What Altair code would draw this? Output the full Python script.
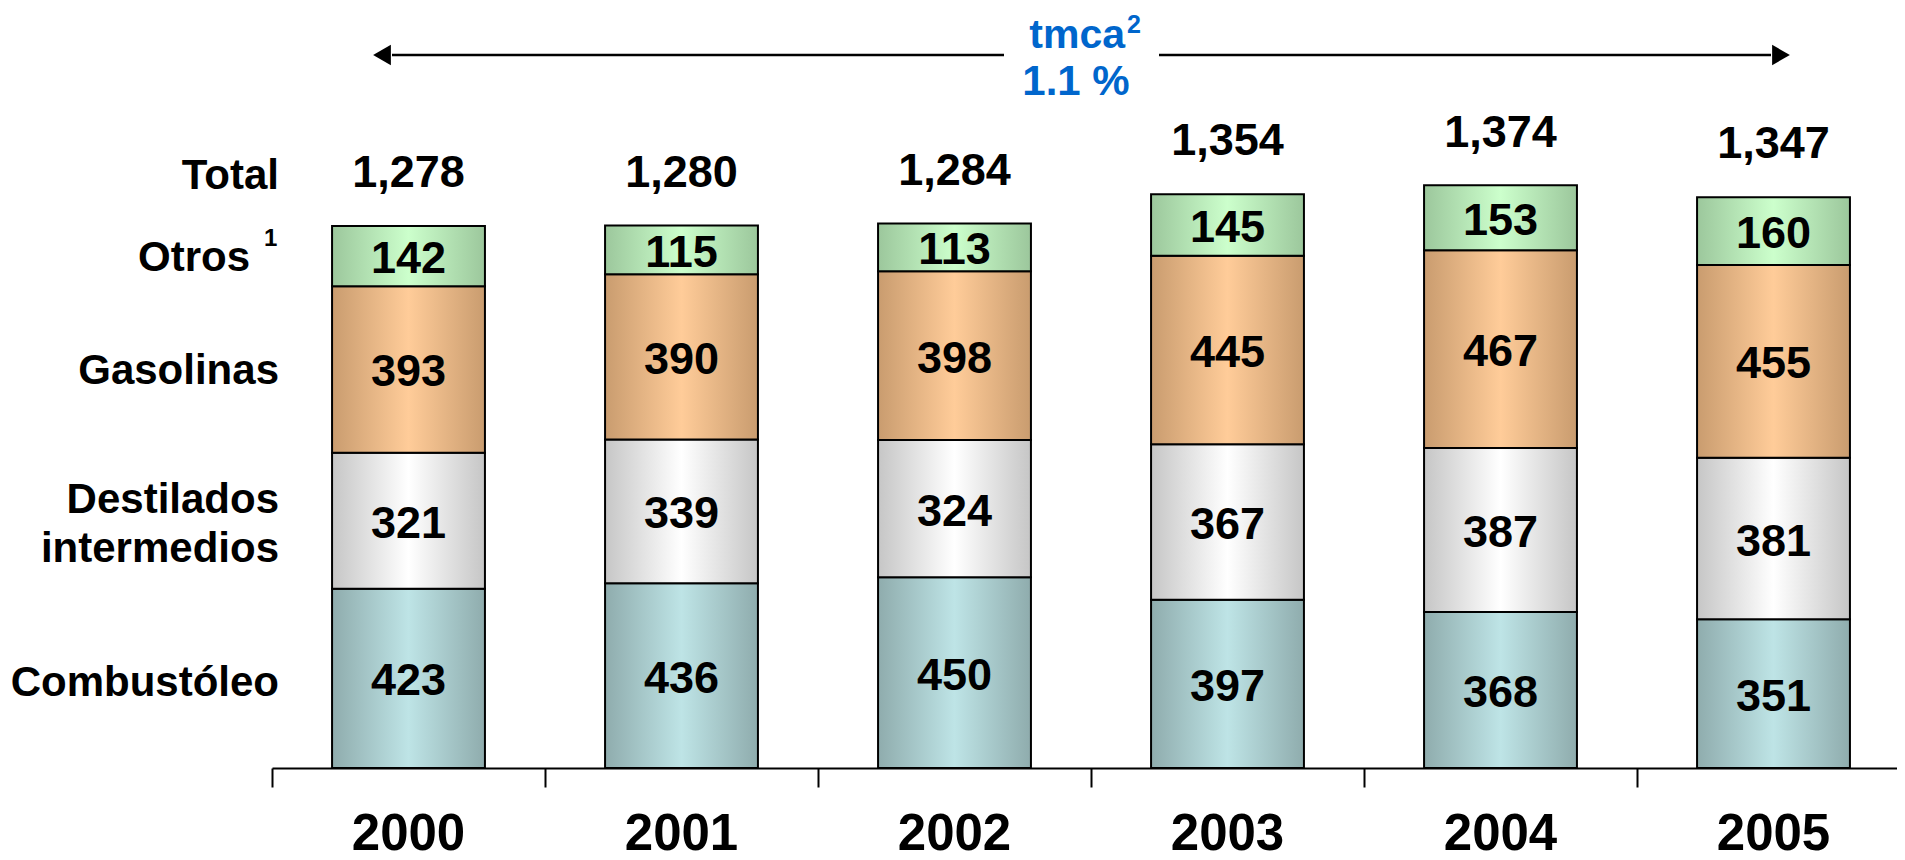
import altair as alt
import pandas as pd

# ---- data ----
years = ["2000", "2001", "2002", "2003", "2004", "2005"]
series = ["Combustóleo", "Destilados\nintermedios", "Gasolinas", "Otros"]
series_notes = ["", "", "", "1"]
combustoleo = [423, 436, 450, 397, 368, 351]
destilados = [321, 339, 324, 367, 387, 381]
gasolinas = [393, 390, 398, 445, 467, 455]
otros = [142, 115, 113, 145, 153, 160]
totals = [1278, 1280, 1284, 1354, 1374, 1347]
tmca_title = "tmca"
tmca_note = "2"
tmca_value = "1.1 %"

edge_colors = ["#8FACAD", "#C6C6C6", "#C99C6F", "#9CC79C"]
center_colors = ["#BEE4E6", "#FFFFFF", "#FFCC99", "#CCFFCC"]

values = [combustoleo, destilados, gasolinas, otros]
rows = []
for yi, yr in enumerate(years):
    base = 0
    for si, s in enumerate(series):
        v = values[si][yi]
        rows.append(dict(year=yr, series=s, note=series_notes[si], value=v, start=base,
                         end=base + v, mid=base + v / 2, order=si))
        base += v
seg = pd.DataFrame(rows)
tot = pd.DataFrame({"year": years, "total": totals})

FONT = "Liberation Sans"
BLUE = "#0066CC"

xscale = alt.Scale(domain=years, range=[0, 1638], paddingInner=0.44, paddingOuter=0.22)
yscale = alt.Scale(domain=[0, 1600])
xaxis = alt.Axis(title=None, domainColor="black", domainWidth=2, tickColor="black",
                 tickWidth=2, tickSize=19, bandPosition=-0.392, labelFont=FONT,
                 labelFontSize=51, labelFontWeight="bold", labelColor="black",
                 labelBaseline="alphabetic", labelPadding=62, labelAngle=0)
xenc = alt.X("year:N", scale=xscale, axis=xaxis, sort=years)

layers = []
for si, s in enumerate(series):
    grad = alt.Gradient(
        gradient="linear", x1=0, x2=1, y1=0, y2=0,
        stops=[alt.GradientStop(color=edge_colors[si], offset=0),
               alt.GradientStop(color=center_colors[si], offset=0.5),
               alt.GradientStop(color=edge_colors[si], offset=1)])
    layers.append(
        alt.Chart(seg[seg.series == s]).mark_bar(fill=grad, stroke="black", strokeWidth=2)
        .encode(x=xenc, y=alt.Y("start:Q", scale=yscale, axis=None), y2="end:Q")
    )

# values inside the segments
layers.append(
    alt.Chart(seg).mark_text(font=FONT, fontSize=45, fontWeight="bold", baseline="middle",
                             color="black", dy=3)
    .encode(x=xenc, y=alt.Y("mid:Q", scale=yscale, axis=None), text="value:Q")
)
# totals above bars
layers.append(
    alt.Chart(tot).mark_text(font=FONT, fontSize=45, fontWeight="bold",
                             baseline="alphabetic", dy=-39, color="black")
    .encode(x=xenc, y=alt.Y("total:Q", scale=yscale, axis=None),
            text=alt.Text("total:Q", format=","))
)

# left-side category labels aligned with the 2000 bar (per-row placement tweaks)
first = seg[seg.year == years[0]]
label_place = {  # series -> (x px, dy px)
    series[0]: (7, 5),
    series[1]: (7, -21),
    series[2]: (7, 2),
    series[3]: (-22, 2),
}
for s, (xp, dyp) in label_place.items():
    layers.append(
        alt.Chart(first[first.series == s]).mark_text(
            font=FONT, fontSize=42, fontWeight="bold", align="right", baseline="middle",
            lineBreak="\n", lineHeight=49, color="black", dy=dyp)
        .encode(x=alt.value(xp), y=alt.Y("mid:Q", scale=yscale, axis=None), text="series:N")
    )
# footnote marker next to "Otros"
layers.append(
    alt.Chart(first[first.note != ""]).mark_text(
        font=FONT, fontSize=24, fontWeight="bold", align="left", baseline="alphabetic",
        color="black", dy=-10)
    .encode(x=alt.value(-8), y=alt.Y("mid:Q", scale=yscale, axis=None), text="note:N")
)
layers.append(
    alt.Chart(tot.iloc[[0]].assign(name="Total")).mark_text(
        font=FONT, fontSize=42, fontWeight="bold", align="right", baseline="alphabetic",
        dy=-37, color="black")
    .encode(x=alt.value(7), y=alt.Y("total:Q", scale=yscale, axis=None), text="name:N")
)

# top annotation: double arrow with growth rate
one = pd.DataFrame({"a": [0]})
layers.append(alt.Chart(one).mark_rule(color="black", strokeWidth=2.5)
              .encode(x=alt.value(120), x2=alt.value(732), y=alt.value(-35)))
layers.append(alt.Chart(one).mark_rule(color="black", strokeWidth=2.5)
              .encode(x=alt.value(887), x2=alt.value(1499), y=alt.value(-35)))
layers.append(alt.Chart(one).mark_point(shape="triangle-left", filled=True, size=420,
                                        color="black", opacity=1)
              .encode(x=alt.value(110), y=alt.value(-35)))
layers.append(alt.Chart(one).mark_point(shape="triangle-right", filled=True, size=420,
                                        color="black", opacity=1)
              .encode(x=alt.value(1509), y=alt.value(-35)))
layers.append(alt.Chart(pd.DataFrame({"t": [tmca_title]})).mark_text(
    font=FONT, fontSize=41, fontWeight="bold", color=BLUE, baseline="alphabetic",
    align="right")
    .encode(x=alt.value(853), y=alt.value(-42), text="t:N"))
layers.append(alt.Chart(pd.DataFrame({"t": [tmca_note]})).mark_text(
    font=FONT, fontSize=25, fontWeight="bold", color=BLUE, baseline="alphabetic",
    align="left")
    .encode(x=alt.value(855), y=alt.value(-57), text="t:N"))
layers.append(alt.Chart(pd.DataFrame({"t": [tmca_value]})).mark_text(
    font=FONT, fontSize=42, fontWeight="bold", color=BLUE, baseline="alphabetic")
    .encode(x=alt.value(804), y=alt.value(5), text="t:N"))

chart = (
    alt.layer(*layers)
    .properties(width=1625, height=678,
                padding={"left": 264, "top": 82, "right": 0, "bottom": 92},
                autosize=alt.AutoSizeParams(type="none"))
    .configure(font=FONT, background="white")
    .configure_view(stroke=None)
)

chart.save("out.html", embed_options={"renderer": "svg", "actions": False})
